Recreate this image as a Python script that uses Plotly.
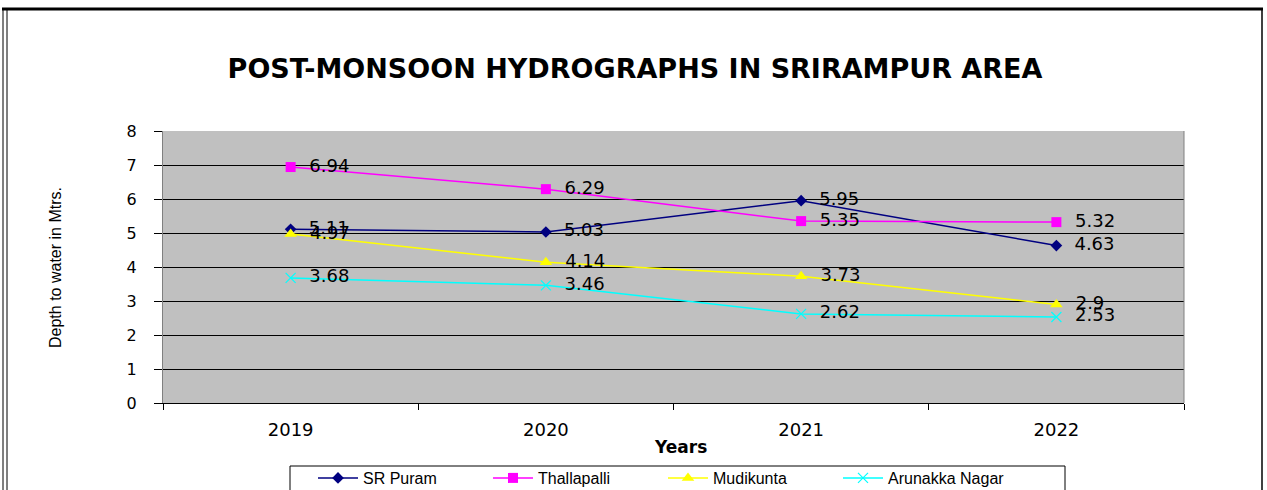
import plotly.graph_objects as go

years = ["2019", "2020", "2021", "2022"]
sr_puram = [5.11, 5.03, 5.95, 4.63]
thallapalli = [6.94, 6.29, 5.35, 5.32]
mudikunta = [4.97, 4.14, 3.73, 2.9]
arunakka = [3.68, 3.46, 2.62, 2.53]

series = [
    ("SR Puram", sr_puram, "#000080", "diamond", 9),
    ("Thallapalli", thallapalli, "#FF00FF", "square", 10),
    ("Mudikunta", mudikunta, "#FFFF00", "triangle-up", 11),
    ("Arunakka Nagar", arunakka, "#00FFFF", "x-thin", 10),
]

W, H = 1267, 490
L, R, T, B = 163, 1184, 131, 403
FONT = "DejaVu Sans, Liberation Sans, Arial"

def px(x):
    return (x - L) / (R - L)

def py(y):
    return (B - y) / (B - T)

fig = go.Figure()
for name, vals, color, sym, size in series:
    marker = dict(symbol=sym, size=size, color=color)
    if sym == "x-thin":
        marker["line"] = dict(color=color, width=1.2)
    fig.add_trace(go.Scatter(
        x=years, y=vals, name=name, mode="lines+markers+text",
        line=dict(color=color, width=1.5),
        marker=marker,
        text=[f"  {v}" for v in vals],
        textposition="middle right",
        textfont=dict(family=FONT, size=18, color="black"),
        cliponaxis=False,
    ))

shapes = [
    dict(type="line", xref="paper", yref="paper", x0=px(3), x1=px(3), y0=py(9), y1=py(495),
         line=dict(color="black", width=1)),
    dict(type="line", xref="paper", yref="paper", x0=px(7), x1=px(7), y0=py(9), y1=py(495),
         line=dict(color="black", width=1)),
    dict(type="line", xref="paper", yref="paper", x0=px(1262), x1=px(1262), y0=py(9), y1=py(495),
         line=dict(color="black", width=1.5)),
    dict(type="line", xref="paper", yref="paper", x0=px(2), x1=px(1263), y0=py(9), y1=py(9),
         line=dict(color="black", width=3)),
    dict(type="line", xref="paper", yref="paper", x0=px(R), x1=px(R), y0=0, y1=1,
         line=dict(color="#808080", width=1)),
    dict(type="rect", xref="paper", yref="paper", x0=px(290), x1=px(1065), y0=py(466), y1=py(500),
         line=dict(color="black", width=1), fillcolor="rgba(0,0,0,0)"),
]

annotations = [
    dict(text="Depth to water in Mtrs.", xref="paper", yref="paper",
         x=px(55), y=py(268), xanchor="center", yanchor="middle",
         textangle=-90, showarrow=False,
         font=dict(family="Liberation Sans Narrow, Liberation Sans, Arial", size=16, color="black")),
    dict(text="<b>Years</b>", xref="paper", yref="paper",
         x=px(680), y=py(447), xanchor="center", yanchor="middle",
         showarrow=False, font=dict(family=FONT, size=17, color="black")),
]

fig.update_layout(
    width=W, height=H,
    margin=dict(l=L, r=W - R, t=T, b=H - B, autoexpand=False),
    paper_bgcolor="white",
    plot_bgcolor="#C0C0C0",
    font=dict(family=FONT, color="black"),
    title=dict(text="<b>POST-MONSOON HYDROGRAPHS IN SRIRAMPUR AREA</b>",
               x=px(635), xanchor="center", xref="paper",
               y=1 - 69 / H, yanchor="middle", yref="container",
               font=dict(size=27, color="black", family=FONT)),
    xaxis=dict(
        type="category", range=[-0.5, 3.5], showgrid=False,
        tickson="boundaries", ticks="outside", ticklen=6, tickcolor="black",
        showline=True, linecolor="black", linewidth=1,
        tickfont=dict(size=18, family=FONT), zeroline=False,
        ticklabelstandoff=10, automargin=False,
    ),
    yaxis=dict(
        range=[0, 8], dtick=1, showgrid=True, gridcolor="black", gridwidth=1,
        ticks="outside", ticklen=8, tickcolor="black",
        showline=True, linecolor="#808080", linewidth=1,
        tickfont=dict(size=16, family=FONT), zeroline=False,
        ticklabelstandoff=14, automargin=False,
    ),
    legend=dict(
        orientation="h", xref="container", yref="container",
        x=313 / W, xanchor="left", y=1 - 461 / H, yanchor="top",
        borderwidth=0, bgcolor="rgba(0,0,0,0)",
        font=dict(size=16, family="Liberation Sans, Arial"), itemwidth=40, entrywidth=120,
        tracegroupgap=0,
    ),
    shapes=shapes,
    annotations=annotations,
    showlegend=True,
)

fig.write_html("out.html", config={"displayModeBar": False},
               post_script="document.body.style.margin='0';document.body.style.overflow='hidden';")
